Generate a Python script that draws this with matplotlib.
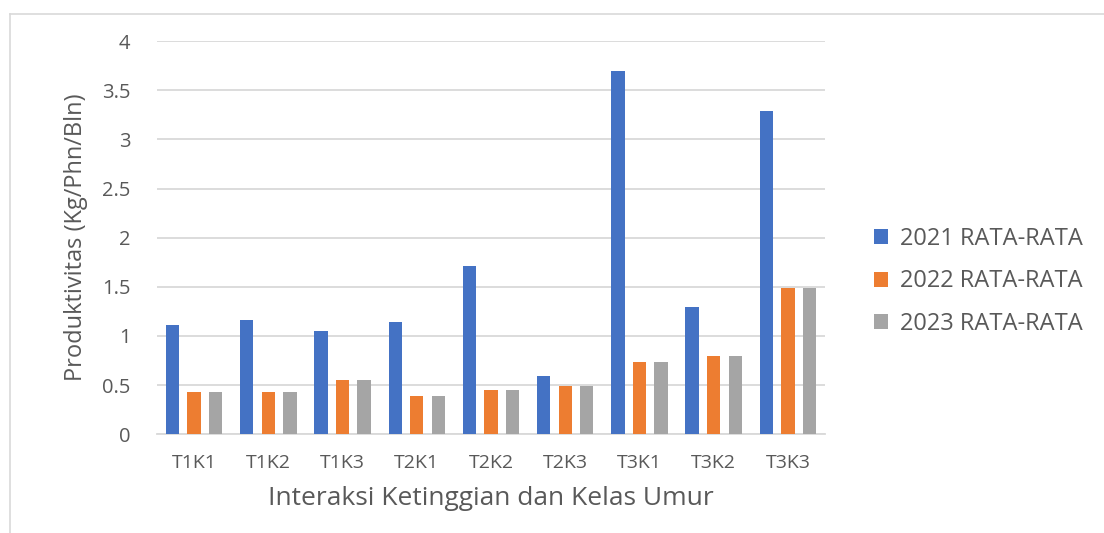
import numpy as np
import matplotlib
matplotlib.use("Agg")
import matplotlib.pyplot as plt
from matplotlib.lines import Line2D

categories = ["T1K1", "T1K2", "T1K3", "T2K1", "T2K2", "T2K3", "T3K1", "T3K2", "T3K3"]
series_names = ["2021 RATA-RATA", "2022 RATA-RATA", "2023 RATA-RATA"]
vals_2021 = [1.11, 1.16, 1.05, 1.14, 1.71, 0.59, 3.70, 1.29, 3.29]
vals_2022 = [0.43, 0.43, 0.55, 0.39, 0.45, 0.49, 0.74, 0.80, 1.49]
vals_2023 = [0.43, 0.43, 0.55, 0.39, 0.45, 0.49, 0.74, 0.80, 1.49]
colors = ["#4472C4", "#ED7D31", "#A5A5A5"]
yticks = [0, 0.5, 1, 1.5, 2, 2.5, 3, 3.5, 4]

plt.rcParams["font.family"] = ["Open Sans", "DejaVu Sans"]
text_col = "#595959"

fig = plt.figure(figsize=(11.04, 5.33), dpi=100)
ax = fig.add_axes([0.1422, 0.1852, 0.6051, 0.7378])

x = np.arange(len(categories))
width = 0.18
offsets = [-0.29, 0.0, 0.29]
for vals, name, col, off in zip([vals_2021, vals_2022, vals_2023], series_names, colors, offsets):
    ax.bar(x + off, vals, width, color=col, label=name, zorder=3)

ax.set_xlim(-0.5, len(categories) - 0.5)
ax.set_ylim(0, 4)
ax.set_yticks(yticks)
ax.set_yticklabels([f"{t:g}" for t in yticks])
ax.set_xticks(x)
ax.set_xticklabels(categories)
ax.grid(axis="y", color="#D9D9D9", linewidth=1.3, zorder=0)
for s in ["top", "right", "left"]:
    ax.spines[s].set_visible(False)
ax.spines["bottom"].set_color("#D9D9D9")
ax.spines["bottom"].set_linewidth(1.3)
ax.tick_params(axis="both", length=0, labelsize=14.5, colors=text_col)
ax.tick_params(axis="x", labelsize=14, pad=14)
ax.tick_params(axis="y", pad=19)

ax.set_xlabel("Interaksi Ketinggian dan Kelas Umur", fontsize=19, color=text_col, labelpad=10)
ax.set_ylabel("Produktivitas (Kg/Phn/Bln)", fontsize=17, color=text_col, labelpad=10,
              family=["Liberation Sans Narrow", "Open Sans", "DejaVu Sans"])

leg = fig.legend(loc="center left", bbox_to_anchor=(0.772, 0.472), frameon=False,
                 fontsize=17, labelcolor=text_col, handlelength=0.6, handleheight=0.6,
                 handletextpad=0.5, labelspacing=0.8)

# chart border
fig.add_artist(Line2D([10 / 1104, 1.0], [1 - 14 / 533, 1 - 14 / 533], transform=fig.transFigure,
                      color="#D9D9D9", linewidth=1.2))
fig.add_artist(Line2D([10 / 1104, 10 / 1104], [0.0, 1 - 14 / 533], transform=fig.transFigure,
                      color="#D9D9D9", linewidth=1.2))

fig.savefig("out.png", dpi=100)
